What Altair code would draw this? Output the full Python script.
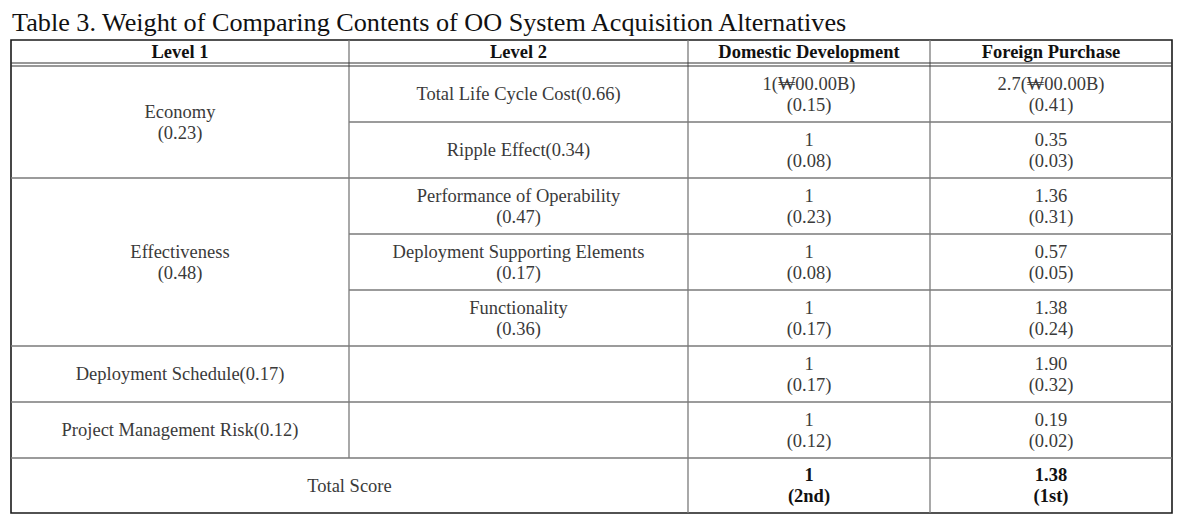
import altair as alt
import pandas as pd

title_text = "Table 3. Weight of Comparing Contents of OO System Acquisition Alternatives"
headers = ["Level 1", "Level 2", "Domestic Development", "Foreign Purchase"]
level1 = ["Economy\n(0.23)", "Effectiveness\n(0.48)", "Deployment Schedule(0.17)", "Project Management Risk(0.12)"]
level1_span = [(0, 2), (2, 5), (5, 6), (6, 7)]
level2 = ["Total Life Cycle Cost(0.66)", "Ripple Effect(0.34)", "Performance of Operability\n(0.47)",
          "Deployment Supporting Elements\n(0.17)", "Functionality\n(0.36)", "", ""]
domestic = ["1(\u20a900.00B)\n(0.15)", "1\n(0.08)", "1\n(0.23)", "1\n(0.08)", "1\n(0.17)", "1\n(0.17)", "1\n(0.12)"]
foreign = ["2.7(\u20a900.00B)\n(0.41)", "0.35\n(0.03)", "1.36\n(0.31)", "0.57\n(0.05)", "1.38\n(0.24)", "1.90\n(0.32)", "0.19\n(0.02)"]
total_label = "Total Score"
total_domestic = "1\n(2nd)"
total_foreign = "1.38\n(1st)"

# layout (image pixel grid)
col_edges = [11, 349, 688, 930, 1172]
header_top, header_bot = 40, 65
row_edges = [66, 122, 178, 234, 290, 346, 402, 458, 513]
LH = 21

texts = []
def add_text(x0, x1, y0, y1, s, bold):
    lines = s.split("\n")
    n = len(lines)
    cx = (x0 + x1) / 2
    cy = (y0 + y1) / 2
    for i, ln in enumerate(lines):
        texts.append(dict(x=cx, y=cy + (i - (n - 1) / 2) * LH, t=ln, bold=bold))

for c, h in enumerate(headers):
    add_text(col_edges[c], col_edges[c + 1], header_top, header_bot - 1, h, True)
for s, (a, b) in zip(level1, level1_span):
    add_text(col_edges[0], col_edges[1], row_edges[a], row_edges[b], s, False)
for r in range(7):
    add_text(col_edges[1], col_edges[2], row_edges[r], row_edges[r + 1], level2[r], False)
    add_text(col_edges[2], col_edges[3], row_edges[r], row_edges[r + 1], domestic[r], False)
    add_text(col_edges[3], col_edges[4], row_edges[r], row_edges[r + 1], foreign[r], False)
add_text(col_edges[0], col_edges[2], row_edges[7], row_edges[8], total_label, False)
add_text(col_edges[2], col_edges[3], row_edges[7], row_edges[8], total_domestic, True)
add_text(col_edges[3], col_edges[4], row_edges[7], row_edges[8], total_foreign, True)
tdf = pd.DataFrame(texts)
tdf = tdf[tdf.t != ""]

# inner lines
h_inner = []
for r in [2, 5, 6, 7]:
    h_inner.append(dict(x=col_edges[0], x2=col_edges[1], y=row_edges[r]))
for r in range(1, 8):
    h_inner.append(dict(x=col_edges[1], x2=col_edges[4], y=row_edges[r]))
v_inner = [dict(x=col_edges[1], y=header_top, y2=row_edges[7]),
           dict(x=col_edges[2], y=header_top, y2=row_edges[8]),
           dict(x=col_edges[3], y=header_top, y2=row_edges[8])]
double = [dict(x=col_edges[0], x2=col_edges[4], y=header_bot - 2),
          dict(x=col_edges[0], x2=col_edges[4], y=header_bot + 1)]
outer = pd.DataFrame([dict(x=col_edges[0], x2=col_edges[4], y=header_top, y2=row_edges[8])])

xs = alt.Scale(domain=[8, 1183], nice=False, zero=False)
ys = alt.Scale(domain=[8, 509], nice=False, zero=False, reverse=True)
X = lambda f: alt.X(f, type="quantitative", scale=xs, axis=None)
Y = lambda f: alt.Y(f, type="quantitative", scale=ys, axis=None)

hl = alt.Chart(pd.DataFrame(h_inner)).mark_rule(color="#7a7a7a", strokeWidth=1.3).encode(
    x=X("x"), x2="x2", y=Y("y"))
vl = alt.Chart(pd.DataFrame(v_inner)).mark_rule(color="#7a7a7a", strokeWidth=1.3).encode(
    x=X("x"), y=Y("y"), y2="y2")
dl = alt.Chart(pd.DataFrame(double)).mark_rule(color="#333333", strokeWidth=1.2).encode(
    x=X("x"), x2="x2", y=Y("y"))
ol = alt.Chart(outer).mark_rect(fill=None, stroke="#1a1a1a", strokeWidth=1.6, fillOpacity=0).encode(
    x=X("x"), x2="x2", y=Y("y"), y2="y2")

body = alt.Chart(tdf[~tdf.bold]).mark_text(font="Liberation Serif", fontSize=18.5, color="#3a3a3a",
                                          baseline="middle", align="center").encode(
    x=X("x"), y=Y("y"), text="t:N")
bold = alt.Chart(tdf[tdf.bold]).mark_text(font="Liberation Serif", fontSize=18.5, fontWeight="bold",
                                          color="#111111", baseline="middle", align="center").encode(
    x=X("x"), y=Y("y"), text="t:N")
title = alt.Chart(pd.DataFrame([dict(x=12, y=30.5, t=title_text)])).mark_text(
    font="Liberation Serif", fontSize=26.2, color="#111111", baseline="alphabetic", align="left").encode(
    x=X("x"), y=Y("y"), text="t:N")

chart = alt.layer(ol, hl, vl, dl, body, bold, title).properties(
    width=1175, height=501, padding=0
).configure_view(stroke=None)

chart.save("out.html", embed_options={"renderer": "svg", "actions": False})
